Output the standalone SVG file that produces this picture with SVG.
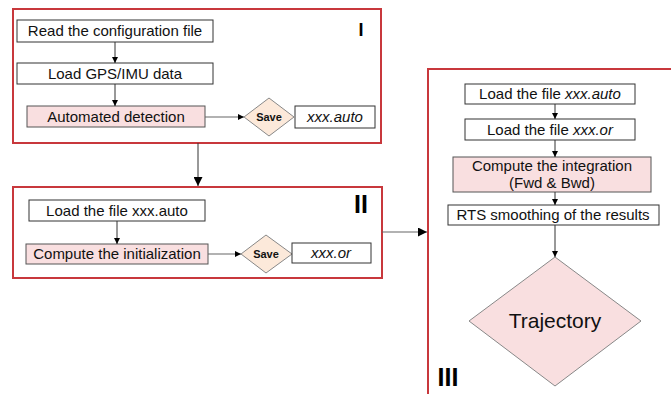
<svg xmlns="http://www.w3.org/2000/svg" width="671" height="394" viewBox="0 0 671 394">
  <defs>
    <marker id="arrow" viewBox="0 0 10 10" refX="10" refY="5" markerWidth="6" markerHeight="6" markerUnits="userSpaceOnUse" orient="auto">
      <path d="M0,0 L10,5 L0,10 z" fill="#000"/>
    </marker>
    <marker id="arrowL" viewBox="0 0 10 10" refX="10" refY="5" markerWidth="9" markerHeight="9" markerUnits="userSpaceOnUse" orient="auto">
      <path d="M0,0 L10,5 L0,10 z" fill="#000"/>
    </marker>
  </defs>
  <style>
    .frame { fill: #fff; stroke: #c8383c; stroke-width: 2; }
    .box { fill: #fff; stroke: #333; stroke-width: 1; }
    .pink { fill: #f9dfe0; stroke: #555; stroke-width: 1; }
    .save { fill: #fce9da; stroke: #888; stroke-width: 1; }
    .traj { fill: #f9dfe0; stroke: #888; stroke-width: 1; }
    .t { font-family: "Liberation Sans", Arial, sans-serif; font-size: 15px; fill: #111; text-anchor: middle; }
    .it { font-style: italic; }
    .big { font-size: 21px; }
    .s { font-family: "Liberation Sans", Arial, sans-serif; font-size: 11px; font-weight: bold; fill: #111; text-anchor: middle; }
    .num { font-family: "Liberation Sans", Arial, sans-serif; font-weight: bold; fill: #000; text-anchor: middle; }
    .n1 { font-size: 18px; }
    .n2 { font-size: 25px; }
    .c { fill: none; stroke: #333; stroke-width: 1; }
    .cg { fill: none; stroke: #666; stroke-width: 1.2; }
  </style>

  <rect width="671" height="394" fill="#fff"/>

  <!-- Stage frames -->
  <g id="frame-I">
    <rect class="frame" x="13" y="9" width="368" height="134"/>
    <text class="num n1" x="361" y="36">I</text>
  </g>
  <g id="frame-II">
    <rect class="frame" x="13" y="187" width="369" height="91"/>
    <text class="num n2" x="361" y="213">II</text>
  </g>
  <g id="frame-III">
    <path class="frame" d="M428,394 L428,69 L680,69"/>
    <text class="num n2" x="448" y="386">III</text>
  </g>

  <!-- Stage I nodes -->
  <g id="read-config">
    <rect class="box" x="17" y="20" width="196" height="22"/>
    <text class="t" x="115" y="36">Read the configuration file</text>
  </g>
  <g id="load-gps">
    <rect class="box" x="17" y="63" width="196" height="21"/>
    <text class="t" x="115" y="79">Load GPS/IMU data</text>
  </g>
  <g id="auto-detect">
    <rect class="pink" x="27" y="106" width="178" height="21"/>
    <text class="t" x="116" y="122">Automated detection</text>
  </g>
  <g id="save-1">
    <polygon class="save" points="244,117 269,98 294,117 269,136"/>
    <text class="s" x="269" y="121">Save</text>
  </g>
  <g id="file-auto">
    <rect class="box" x="295" y="106" width="80" height="22"/>
    <text class="t it" x="335" y="122">xxx.auto</text>
  </g>

  <!-- Stage II nodes -->
  <g id="load-auto">
    <rect class="box" x="29" y="200" width="176" height="21"/>
    <text class="t" x="117" y="216">Load the file xxx.auto</text>
  </g>
  <g id="compute-init">
    <rect class="pink" x="26" y="244" width="182" height="20"/>
    <text class="t" x="117" y="259">Compute the initialization</text>
  </g>
  <g id="save-2">
    <polygon class="save" points="241,254 266,235 292,254 266,273"/>
    <text class="s" x="266" y="258">Save</text>
  </g>
  <g id="file-or">
    <rect class="box" x="292" y="243" width="79" height="20"/>
    <text class="t it" x="331" y="258">xxx.or</text>
  </g>

  <!-- Stage III nodes -->
  <g id="load-file-auto">
    <rect class="box" x="465" y="84" width="170" height="20"/>
    <text class="t" x="550" y="99">Load the file <tspan class="it">xxx.auto</tspan></text>
  </g>
  <g id="load-file-or">
    <rect class="box" x="465" y="119" width="170" height="21"/>
    <text class="t" x="550" y="135">Load the file <tspan class="it">xxx.or</tspan></text>
  </g>
  <g id="compute-integration">
    <rect class="pink" x="453" y="157" width="198" height="35"/>
    <text class="t" x="552" y="171">Compute the integration</text>
    <text class="t" x="552" y="188">(Fwd &amp; Bwd)</text>
  </g>
  <g id="rts-smoothing">
    <rect class="box" x="448" y="205" width="211" height="20"/>
    <text class="t" x="553" y="220">RTS smoothing of the results</text>
  </g>
  <g id="trajectory">
    <polygon class="traj" points="469,321 555,257 641,321 555,386"/>
    <text class="t big" x="555" y="328">Trajectory</text>
  </g>

  <!-- Connectors -->
  <g id="connectors">
    <line class="c" x1="115" y1="42" x2="115" y2="63" marker-end="url(#arrow)"/>
    <line class="c" x1="115" y1="84" x2="115" y2="106" marker-end="url(#arrow)"/>
    <line class="cg" x1="205" y1="117" x2="244" y2="117" marker-end="url(#arrow)"/>
    <line class="c" x1="198" y1="143" x2="198" y2="186" marker-end="url(#arrowL)"/>
    <line class="c" x1="117" y1="221" x2="117" y2="244" marker-end="url(#arrow)"/>
    <line class="cg" x1="208" y1="254" x2="241" y2="254" marker-end="url(#arrow)"/>
    <line class="cg" x1="382" y1="232" x2="427" y2="232" marker-end="url(#arrowL)"/>
    <line class="c" x1="555" y1="104" x2="555" y2="119" marker-end="url(#arrow)"/>
    <line class="c" x1="555" y1="140" x2="555" y2="157" marker-end="url(#arrow)"/>
    <line class="c" x1="555" y1="192" x2="555" y2="205" marker-end="url(#arrow)"/>
    <line class="c" x1="555" y1="225" x2="555" y2="257" marker-end="url(#arrow)"/>
  </g>
</svg>
